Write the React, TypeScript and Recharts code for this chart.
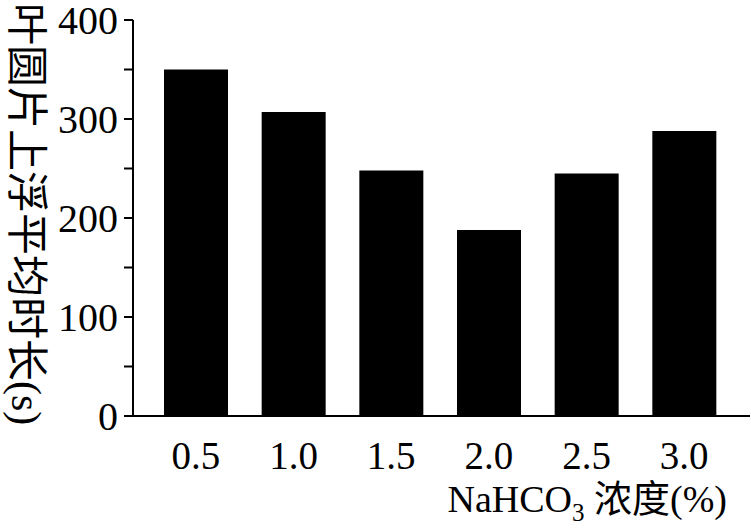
import React from 'react';
import { BarChart, Bar, XAxis, YAxis, Label } from 'recharts';

const concentrations = ['0.5', '1.0', '1.5', '2.0', '2.5', '3.0'];
const floatTimes = [350, 307, 248, 188, 245, 288];
const yTicks = [0, 50, 100, 150, 200, 250, 300, 350, 400];

const data = concentrations.map((c, i) => ({ conc: c, time: floatTimes[i] }));

const serif = '"Liberation Serif", "Times New Roman", "Noto Sans CJK SC", serif';

const YTitle = (props: any) => {
  const x = 26;
  const y = 3;
  return (
    <text
      x={x}
      y={y}
      transform={`rotate(90, ${x}, ${y})`}
      dominantBaseline="central"
      textAnchor="start"
      fontSize={42}
      fontFamily={serif}
      fill="#000"
    >
      叶圆片上浮平均时长(s)
    </text>
  );
};

const XTitle = () => (
  <text x={727} y={512} textAnchor="end" fontSize={38} fontFamily={serif} fill="#000">
    NaHCO
    <tspan fontSize={25} dy={9}>3</tspan>
    <tspan dy={-9}> 浓度(%)</tspan>
  </text>
);

export default function App() {
  return (
    <div style={{ position: 'absolute', left: 0, top: 0, background: '#fff' }}>
      <BarChart
        width={751}
        height={529}
        data={data}
        margin={{ top: 20, right: 1, bottom: 0, left: 0 }}
      >
        <XAxis
          dataKey="conc"
          height={113}
          padding={{ left: 14, right: 17 }}
          tickLine={false}
          tickSize={0}
          tickMargin={25}
          axisLine={{ stroke: '#000', strokeWidth: 2 }}
          tick={{ fill: '#000', fontSize: 39, fontFamily: serif }}
        >
          <Label content={<XTitle />} />
        </XAxis>
        <YAxis
          width={133}
          domain={[0, 400]}
          ticks={yTicks}
          interval={0}
          tickSize={9}
          tickMargin={6}
          tickFormatter={(v: number) => (v % 100 === 0 ? String(v) : '')}
          axisLine={{ stroke: '#000', strokeWidth: 2 }}
          tickLine={{ stroke: '#000', strokeWidth: 2 }}
          tick={{ fill: '#000', fontSize: 40, fontFamily: serif }}
        >
          <Label content={<YTitle />} />
        </YAxis>
        <Bar dataKey="time" fill="#000" barSize={64} isAnimationActive={false} />
      </BarChart>
    </div>
  );
}
